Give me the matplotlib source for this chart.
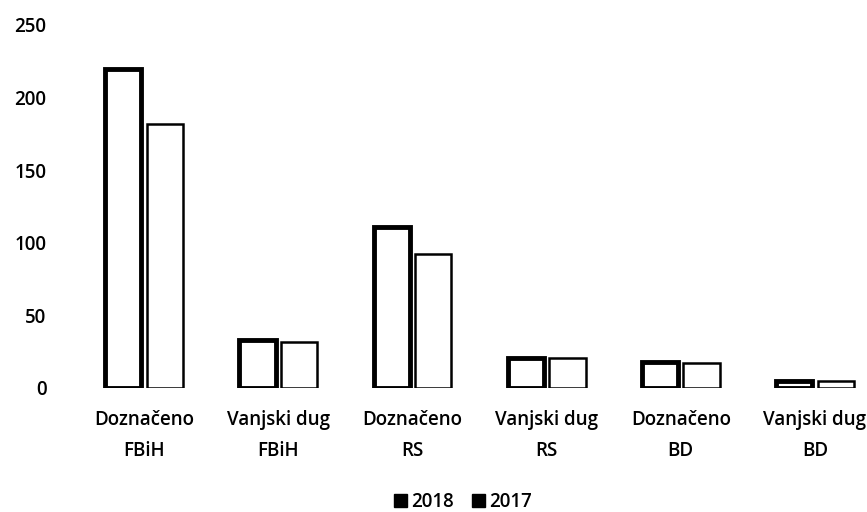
import numpy as np
import matplotlib
matplotlib.use('Agg')
import matplotlib.pyplot as plt
from matplotlib.patches import Patch

plt.rcParams['font.family'] = ['Open Sans', 'DejaVu Sans']
plt.rcParams['font.weight'] = 'semibold'

categories = ['Doznačeno\nFBiH', 'Vanjski dug\nFBiH', 'Doznačeno\nRS',
              'Vanjski dug\nRS', 'Doznačeno\nBD', 'Vanjski dug\nBD']
values_2018 = [220, 33, 111, 21, 18, 5]
values_2017 = [182, 32, 92, 21, 17, 5]
yticks = [0, 50, 100, 150, 200, 250]

fig = plt.figure(figsize=(8.67, 5.12), dpi=100)
ax = fig.add_axes([0.0888, 0.2422, 0.910, 0.709])

x = np.arange(len(categories))
w = 0.27
off = 0.155
ax.bar(x - off, values_2018, w, facecolor='white', edgecolor='black', linewidth=3.5)
ax.bar(x + off, values_2017, w, facecolor='white', edgecolor='black', linewidth=1.8)

ax.set_xlim(-0.5, 5.38)
ax.set_ylim(0, 250)
ax.set_yticks(yticks)
ax.set_xticks(x)
ax.set_xticklabels(categories, fontsize=13.5, linespacing=1.75)
ax.tick_params(axis='y', length=0, pad=22, labelsize=13.5)
ax.tick_params(axis='x', length=0, pad=16)
for s in ax.spines.values():
    s.set_visible(False)

handles = [Patch(facecolor='black', edgecolor='black', label='2018'),
           Patch(facecolor='black', edgecolor='black', label='2017')]
fig.legend(handles=handles, loc='center', bbox_to_anchor=(0.534, 0.02), ncol=2,
           frameon=False, fontsize=13.5, handlelength=0.7, handleheight=0.7,
           handletextpad=0.2, columnspacing=1.0)

fig.savefig('out.png', dpi=100)
